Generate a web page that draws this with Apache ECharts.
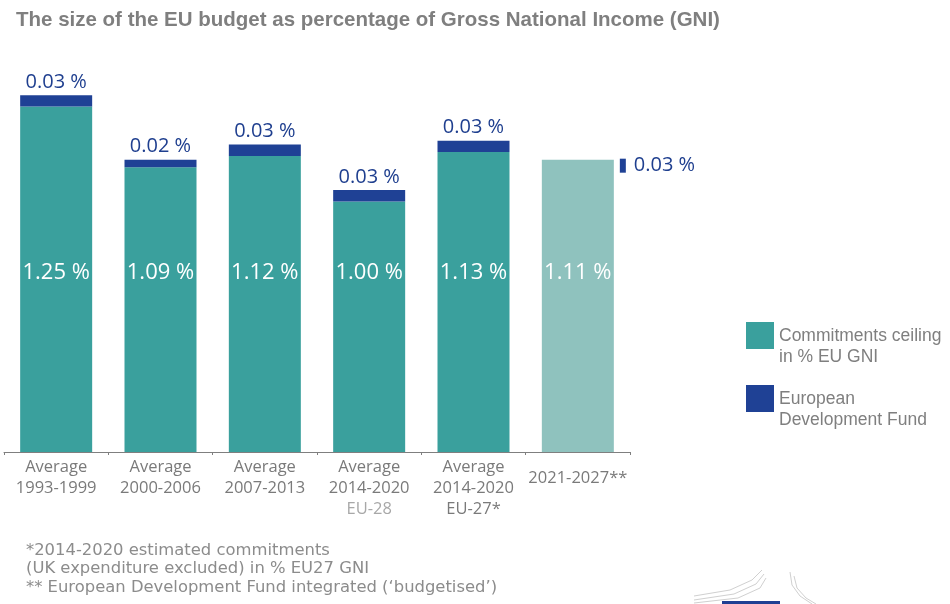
<!DOCTYPE html>
<html>
<head>
<meta charset="utf-8">
<script src="https://cdn.jsdelivr.net/npm/echarts@6/dist/echarts.min.js"></script>
<style>
html,body{margin:0;padding:0;background:#fff;}
#chart{width:950px;height:604px;}
</style>
</head>
<body>
<div id="chart"></div>
<script>
const categories = [
  'Average\n1993-1999',
  'Average\n2000-2006',
  'Average\n2007-2013',
  'Average\n2014-2020\n{l|EU-28}',
  'Average\n2014-2020\nEU-27*',
  '{s|2021-2027**}'
];
const commitments = [1.25, 1.09, 1.12, 1.00, 1.13, 1.11];
const edf = [0.03, 0.02, 0.03, 0.03, 0.03, 0.03];
const edfBudgetised = [false, false, false, false, false, true];
const seriesNames = ['Commitments ceiling\nin % EU GNI', 'European\nDevelopment Fund'];
const titleText = 'The size of the EU budget as percentage of Gross National Income (GNI)';
const footnotes = [
  '*2014-2020 estimated commitments',
  '(UK expenditure excluded) in % EU27 GNI',
  '** European Development Fund integrated (\u2018budgetised\u2019)'
];

const TEAL = '#3aa09d';
const TEAL_LIGHT = '#8fc2be';
const BLUE = '#1f4195';
const BLUE_TEXT = '#1f3f8f';
const GRAY = '#7f7f7f';
const fmt = v => v.toFixed(2) + ' %';
const LEGEND_ICON = 'path://M0,0L28,0L28,27L0,27Z M0,49L0.01,49L0.01,49.01L0,49.01Z';

const chart = echarts.init(document.getElementById('chart'), null, {renderer: 'canvas'});

const commitData = commitments.map((v, i) => edfBudgetised[i]
  ? {value: v, itemStyle: {color: TEAL_LIGHT}}
  : {value: v});

const edfData = edf.map((v, i) => edfBudgetised[i]
  ? {
      value: 0,
      label: {
        show: true,
        position: 'right',
        distance: 6,
        offset: [0, 6],
        formatter: '{m|}{t|' + fmt(v) + '}',
        rich: {
          m: {backgroundColor: BLUE, width: 6, height: 14},
          t: {fontFamily: 'Open Sans', fontSize: 20, color: BLUE_TEXT, padding: [0, 0, 0, 8]}
        }
      }
    }
  : {value: v});

chart.setOption({
  animation: false,
  backgroundColor: '#ffffff',
  title: {
    text: titleText,
    left: 11,
    top: 5,
    textStyle: {fontFamily: 'Liberation Sans', fontSize: 20.5, fontWeight: 'bold', color: GRAY}
  },
  legend: {
    orient: 'vertical',
    left: 741,
    top: 317,
    icon: LEGEND_ICON,
    itemWidth: 28,
    itemHeight: 49,
    itemGap: 14,
    selectedMode: false,
    textStyle: {fontFamily: 'Liberation Sans', fontSize: 17.5, color: GRAY, lineHeight: 21},
    data: seriesNames
  },
  grid: {left: 4, right: 320, top: 42, bottom: 152, containLabel: false},
  xAxis: {
    type: 'category',
    data: categories,
    axisLine: {lineStyle: {color: GRAY, width: 1}},
    axisTick: {show: true, length: 3, lineStyle: {color: GRAY}},
    axisLabel: {
      interval: 0,
      margin: 5,
      fontFamily: 'Open Sans',
      fontSize: 16.5,
      color: '#7a7a7a',
      lineHeight: 21,
      rich: {
        l: {fontFamily: 'Open Sans', fontSize: 16.5, color: '#a8a8a8', lineHeight: 21},
        s: {fontFamily: 'Open Sans', fontSize: 16.5, color: '#7a7a7a', lineHeight: 42}
      }
    }
  },
  yAxis: {
    type: 'value',
    min: 0.34,
    max: 1.42,
    show: false,
    splitLine: {show: false}
  },
  series: [
    {
      name: seriesNames[0],
      type: 'bar',
      stack: 'total',
      barWidth: 72,
      itemStyle: {color: TEAL},
      label: {
        show: true,
        position: 'insideBottom',
        distance: 168,
        fontFamily: 'Open Sans',
        fontSize: 22,
        color: '#ffffff',
        formatter: p => fmt(p.value)
      },
      data: commitData
    },
    {
      name: seriesNames[1],
      type: 'bar',
      stack: 'total',
      barWidth: 72,
      itemStyle: {color: BLUE},
      label: {
        show: true,
        position: 'top',
        distance: 3,
        fontFamily: 'Open Sans',
        fontSize: 20,
        color: BLUE_TEXT,
        formatter: p => fmt(p.value)
      },
      data: edfData
    }
  ],
  graphic: [
    {
      type: 'text',
      left: 26,
      top: 541,
      style: {
        text: footnotes.join('\n'),
        fontFamily: 'DejaVu Sans',
        fontSize: 16.4,
        lineHeight: 18.5,
        fill: '#8c8c8c'
      }
    },
    {type: 'polyline', shape: {points: [[694, 596], [730, 590], [752, 580], [762, 570]]}, style: {stroke: '#d0d0d0', lineWidth: 1, fill: null}},
    {type: 'polyline', shape: {points: [[694, 600], [734, 594], [756, 584], [764, 574]]}, style: {stroke: '#d0d0d0', lineWidth: 1, fill: null}},
    {type: 'polyline', shape: {points: [[694, 603], [738, 598], [760, 588], [766, 578]]}, style: {stroke: '#d0d0d0', lineWidth: 1, fill: null}},
    {type: 'polyline', shape: {points: [[790, 572], [792, 585], [800, 596], [812, 604]]}, style: {stroke: '#d0d0d0', lineWidth: 1, fill: null}},
    {type: 'polyline', shape: {points: [[794, 576], [797, 588], [806, 598], [816, 604]]}, style: {stroke: '#d0d0d0', lineWidth: 1, fill: null}},
    {type: 'rect', shape: {x: 722, y: 601, width: 58, height: 3}, style: {fill: '#1f3f93'}}
  ]
});
</script>
</body>
</html>
